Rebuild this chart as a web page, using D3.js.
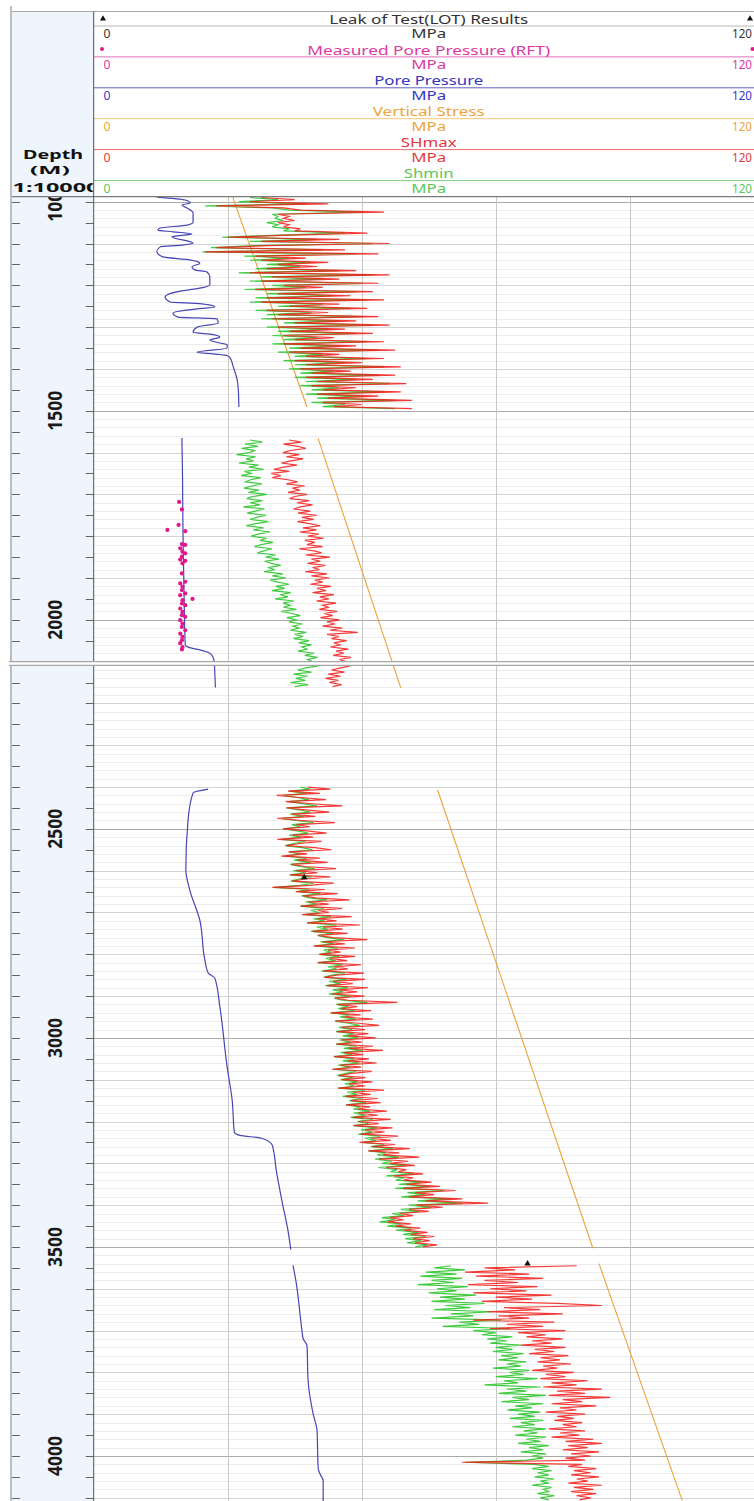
<!DOCTYPE html>
<html>
<head>
<meta charset="utf-8">
<style>
  body { margin: 0; background: #fff; }
  svg { display: block; font-family: "Noto Sans", "DejaVu Sans", sans-serif; }
</style>
</head>
<body>
<svg id="chart"></svg>
<script src="https://cdn.jsdelivr.net/npm/d3@7/dist/d3.min.js"></script>
<script>

let curveTitles = ["Leak of Test(LOT) Results", "Measured Pore Pressure (RFT)", "Pore Pressure", "Vertical Stress", "SHmax", "Shmin"];
let scaleMin = 0, scaleMax = 120, scaleUnit = "MPa";
let depthLabels = [1000, 1500, 2000, 2500, 3000, 3500, 4000];

// [depth m, MPa], null = gap between logged intervals
let porePressure = [
  [989, 11.3], [996, 16.4], [1003, 17.3], [1008, 15.8], [1015, 16.7], [1027, 17.8], [1049, 17.8], [1056, 16.7],
  [1063, 11.9], [1068, 11.5], [1072, 14.2], [1077, 17.6], [1084, 14.0], [1099, 17.8], [1104, 15.8], [1108, 11.9],
  [1120, 11.3], [1132, 12.4], [1139, 17.2], [1147, 19.0], [1156, 17.6], [1163, 18.1], [1168, 20.3], [1180, 20.8],
  [1199, 20.8], [1208, 18.5], [1214, 15.5], [1228, 12.8], [1240, 13.7], [1244, 19.0], [1252, 21.7], [1256, 18.7],
  [1266, 14.2], [1276, 15.1], [1280, 22.1], [1290, 22.3], [1300, 18.5], [1312, 17.8], [1318, 21.4], [1324, 22.6],
  [1331, 20.8], [1338, 22.6], [1342, 23.9], [1350, 23.9], [1360, 18.5], [1364, 21.4], [1368, 23.9], [1373, 24.4],
  [1395, 25.0], [1426, 25.7], [1450, 25.9], [1491, 26.0],
  null,
  [1565, 15.8], [1650, 15.9], [1800, 16.0], [1950, 16.2], [2060, 16.4], [2066, 17.0], [2072, 19.0], [2080, 20.8],
  [2090, 21.4], [2102, 21.6], [2130, 21.7], [2162, 21.8],
  null,
  [2405, 20.5], [2414, 17.8], [2478, 16.9], [2598, 16.5], [2646, 17.2], [2718, 19.0], [2813, 19.9], [2845, 20.5],
  [2857, 21.7], [2926, 22.6], [3070, 23.9], [3149, 24.8], [3226, 25.2], [3233, 26.2], [3240, 30.1], [3257, 32.0],
  [3317, 32.7], [3389, 33.7], [3461, 34.8], [3506, 35.3],
  null,
  [3544, 35.7], [3580, 36.2], [3700, 37.3], [3719, 37.5], [3736, 38.2], [3820, 38.4], [3899, 39.3], [3939, 40.0],
  [4028, 40.2], [4042, 40.5], [4059, 41.1], [4110, 41.1]
];

let verticalStress = [
  [989, 24.9], [1491, 38.2], null,
  [1566, 40.2], [2163, 55.0], null,
  [2407, 61.6], [3503, 89.4], null,
  [3540, 90.5], [4106, 105.4]
];

let rftPoints = [
  [1718, 15.3], [1736, 15.8], [1773, 15.2], [1785, 13.2], [1788, 16.4], [1819, 15.8], [1821, 16.4], [1829, 15.5],
  [1837, 15.9], [1841, 16.4], [1849, 15.8], [1856, 15.5], [1859, 16.4], [1865, 15.9], [1889, 15.8], [1909, 16.4],
  [1913, 15.5], [1921, 15.9], [1929, 15.8], [1937, 16.4], [1941, 15.5], [1950, 17.7], [1953, 15.9], [1961, 15.8],
  [1965, 16.4], [1973, 15.5], [1981, 15.9], [1989, 15.8], [1993, 16.4], [2001, 15.5], [2009, 15.9], [2017, 15.8],
  [2025, 16.4], [2033, 15.5], [2041, 15.9], [2049, 15.8], [2056, 15.5], [2065, 15.9], [2071, 15.8]
];

let lotPoints = [[2616, 37.7], [3540, 77.7]];

// stress logs: each interval starts at sectionTops[i], one sample every sectionSteps[i] m
let sectionTops = [990, 1570, 2400, 3545];
let sectionSteps = [5, 5, 5, 5];

let shmaxValues = [
  [30, 36, 28, 42, 22, 34, 37, 52, 33, 35,
   34, 36, 33, 35, 34, 37, 36, 49, 35, 24,
   44, 30, 53, 31, 22, 45, 20, 51, 29, 38,
   30, 42, 33, 40, 31, 47, 28, 53, 32, 44,
   30, 51, 34, 41, 29, 50, 33, 46, 31, 52,
   30, 44, 35, 49, 31, 42, 33, 51, 32, 47,
   36, 53, 33, 45, 35, 50, 34, 43, 36, 52,
   34, 47, 37, 54, 35, 44, 38, 52, 36, 48,
   38, 55, 37, 46, 39, 54, 38, 50, 40, 56,
   39, 47, 41, 55, 40, 51, 42, 57, 41, 48,
   43, 57],
  [35.0, 37.2, 34.0, 36.5, 38.0, 35.2, 33.9, 36.8, 34.5, 37.5,
   35.3, 33.6, 36.4, 34.0, 32.3, 35.0, 31.8, 33.5, 32.0, 34.8,
   36.5, 34.5, 37.8, 35.6, 36.9, 34.8, 38.2, 36.0, 35.1, 38.6,
   36.4, 39.2, 37.0, 35.8, 38.8, 36.6, 40.0, 37.3, 39.4, 36.5,
   38.6, 40.6, 37.5, 39.9, 36.9, 40.3, 38.4, 41.2, 37.8, 39.6,
   38.2, 41.0, 36.8, 39.5, 40.8, 38.0, 42.3, 39.0, 40.6, 38.3,
   41.5, 39.2, 40.4, 37.9, 41.8, 39.0, 42.2, 39.6, 41.0, 38.8,
   42.5, 40.0, 41.6, 39.2, 43.0, 40.5, 42.1, 39.9, 43.4, 41.0,
   42.0, 40.4, 43.6, 41.3, 42.8, 40.6, 44.0, 41.8, 43.2, 41.0,
   44.5, 42.3, 47.3, 41.8, 43.9, 42.6, 45.3, 43.0, 44.1, 42.4,
   45.6, 43.4, 44.8, 42.9, 46.1, 44.0, 45.2, 43.6, 45.9, 44.3,
   42.6, 44.9, 42.0, 44.2, 41.5, 43.8, 42.2, 44.4, 42.8],
  [38.4, 42.4, 34.8, 40.5, 32.8, 37.0, 41.6, 34.4, 39.1, 44.5,
   34.5, 38.4, 42.2, 35.5, 39.7, 32.9, 37.3, 43.2, 36.3, 38.7,
   33.9, 38.2, 41.7, 35.6, 39.3, 32.9, 40.8, 36.9, 34.5, 39.6,
   42.6, 34.9, 38.2, 33.6, 40.5, 36.5, 41.9, 35.4, 37.9, 43.4,
   36.3, 40.1, 35.2, 42.4, 37.9, 35.6, 43.0, 38.7, 32.0, 41.4,
   36.2, 43.7, 37.5, 39.7, 45.8, 38.4, 42.1, 37.1, 44.5, 40.2,
   42.1, 37.3, 46.2, 40.1, 43.5, 38.2, 47.7, 41.1, 44.6, 39.2,
   45.5, 40.2, 42.9, 49.0, 41.0, 45.0, 39.4, 46.8, 42.0, 44.2,
   40.4, 46.8, 42.3, 45.4, 40.1, 47.9, 43.0, 45.5, 41.1, 48.4,
   43.5, 41.3, 48.6, 42.9, 46.4, 41.8, 49.1, 43.8, 47.2, 42.7,
   48.5, 43.2, 45.6, 54.4, 43.7, 47.2, 44.3, 49.7, 42.4, 47.8,
   44.7, 50.0, 43.3, 47.4, 51.1, 44.4, 48.6, 43.6, 49.2, 45.5,
   50.5, 44.4, 48.0, 43.5, 50.0, 45.7, 51.8, 44.8, 48.3, 43.0,
   49.3, 45.5, 50.7, 44.2, 47.9, 42.7, 49.8, 46.3, 43.9, 48.7,
   44.5, 49.9, 45.7, 48.6, 43.8, 52.0, 46.4, 49.6, 45.1, 50.9,
   46.1, 51.4, 45.2, 49.5, 47.2, 52.5, 47.4, 50.9, 46.4, 53.2,
   47.5, 51.0, 46.5, 53.5, 48.6, 52.1, 47.8, 54.5, 49.7, 53.2,
   47.6, 54.0, 49.9, 56.6, 49.2, 54.7, 51.8, 58.3, 51.1, 56.3,
   53.0, 57.5, 52.4, 56.0, 54.6, 59.0, 53.8, 57.2, 55.5, 60.5,
   56.0, 62.0, 55.4, 64.8, 57.6, 61.0, 56.5, 66.0, 59.5, 70.6,
   57.8, 62.5, 56.5, 60.0, 54.8, 57.2, 53.0, 55.5, 52.6, 56.8,
   54.0, 58.5, 55.5, 59.8, 56.8, 61.0, 57.2, 60.2, 57.5, 61.5,
   59.0],
  [86.5, 70.0, 75.5, 66.5, 78.0, 68.5, 80.5, 70.0, 76.0, 67.0,
   79.5, 71.0, 77.5, 68.0, 82.0, 72.0, 78.5, 69.5, 83.0, 91.0,
   73.5, 80.0, 70.5, 84.0, 72.5, 78.0, 68.0, 82.5, 74.0, 80.5,
   71.0, 84.5, 76.0, 81.0, 77.5, 84.0, 78.5, 82.0, 76.5, 84.5,
   79.0, 82.5, 78.0, 85.0, 80.0, 83.5, 79.5, 85.5, 80.5, 83.0,
   78.5, 86.0, 81.0, 84.5, 80.0, 88.5, 82.0, 86.5, 80.5, 91.0,
   83.0, 88.0, 81.5, 92.5, 84.0, 87.5, 82.0, 90.0, 83.5, 86.5,
   81.0, 88.0, 83.0, 86.0, 82.5, 87.5, 84.0, 86.5, 81.5, 88.0,
   83.5, 87.0, 82.0, 89.5, 84.5, 91.0, 85.0, 88.5, 84.0, 90.5,
   85.5, 89.0, 84.5, 88.0, 66.0, 87.5, 85.0, 90.0, 86.0, 89.0,
   85.5, 90.5, 86.5, 88.5, 85.0, 91.0, 86.0, 89.5, 85.5, 90.0,
   86.5, 89.0, 87.0]
];

let shminValues = [
  [28, 33, 26, 38, 20, 32, 35, 48, 32, 33,
   32.5, 34, 31, 33, 32, 35, 34, 45, 33, 23,
   40, 28, 50, 29, 21, 41, 19.5, 47, 27, 35,
   28, 39, 31, 37, 29, 44, 26, 50, 30, 41,
   28, 48, 32, 38, 27, 47, 31, 43, 29, 49,
   28, 41, 33, 46, 29, 39, 31, 48, 30, 44,
   34, 50, 31, 42, 33, 47, 32, 40, 34, 49,
   32, 44, 35, 51, 33, 41, 36, 49, 34, 45,
   36, 52, 35, 43, 37, 51, 36, 47, 38, 53,
   37, 44, 39, 52, 38, 48, 40, 54, 39, 45,
   41, 54],
  [28.0, 30.2, 27.1, 29.4, 26.5, 28.8, 27.9, 25.6, 29.0, 27.3,
   28.6, 26.0, 29.5, 27.8, 30.4, 27.0, 28.2, 26.4, 29.9, 28.1,
   27.2, 30.1, 28.4, 26.9, 29.6, 27.7, 31.0, 28.5, 27.4, 30.2,
   28.0, 29.8, 26.8, 30.6, 28.9, 27.5, 30.9, 29.2, 28.0, 31.3,
   29.0, 27.3, 30.4, 28.6, 31.6, 29.4, 28.2, 31.0, 29.8, 32.1,
   30.0, 28.8, 31.9, 30.5, 29.3, 32.6, 30.8, 33.2, 30.6, 31.8,
   33.5, 31.2, 32.4, 30.5, 33.9, 32.0, 34.4, 31.6, 33.0, 35.0,
   32.6, 34.2, 31.9, 35.3, 33.4, 34.8, 32.5, 35.9, 33.9, 35.2,
   34.0, 36.3, 33.6, 35.5, 37.0, 34.6, 36.2, 35.0, 37.4, 35.7,
   36.8, 35.2, 38.1, 36.0, 37.5, 35.8, 38.6, 36.7, 39.0, 37.3,
   38.2, 36.6, 39.5, 37.8, 40.1, 38.3, 39.2, 37.5, 40.3, 38.0,
   36.5, 39.0, 35.8, 38.3, 36.2, 37.9, 35.2, 38.4, 36.0],
  [37.0, 38.8, 35.0, 38.2, 34.0, 36.4, 38.6, 34.9, 37.5, 40.0,
   34.6, 36.9, 38.8, 35.2, 37.6, 33.8, 36.2, 39.4, 35.5, 37.0,
   34.0, 36.5, 38.4, 35.0, 37.2, 33.6, 37.9, 35.8, 34.3, 37.3,
   39.2, 35.0, 36.9, 34.2, 38.1, 35.9, 38.9, 35.2, 36.8, 39.6,
   35.8, 38.0, 35.1, 39.0, 36.7, 35.3, 39.4, 37.0, 32.3, 38.6,
   36.5, 40.6, 37.2, 38.6, 41.8, 37.9, 40.0, 37.0, 41.2, 38.9,
   40.4, 37.8, 42.6, 39.4, 41.3, 38.3, 43.5, 40.0, 41.9, 38.9,
   43.0, 40.1, 41.7, 44.8, 40.6, 43.0, 39.6, 43.8, 41.2, 42.5,
   40.4, 44.0, 41.6, 43.3, 40.2, 44.6, 42.0, 43.5, 40.8, 45.0,
   42.6, 41.2, 45.3, 42.2, 44.2, 41.5, 45.6, 42.8, 44.7, 42.1,
   46.0, 43.1, 44.5, 49.0, 43.4, 45.5, 43.8, 46.8, 42.6, 45.8,
   44.1, 47.0, 43.2, 45.7, 47.6, 43.9, 46.3, 43.4, 46.6, 44.6,
   47.4, 44.0, 46.1, 43.4, 47.1, 44.8, 48.2, 44.2, 46.3, 43.1,
   46.7, 44.6, 47.6, 43.8, 46.0, 42.9, 47.0, 45.1, 43.6, 46.4,
   44.2, 47.3, 45.0, 46.7, 43.8, 48.6, 45.4, 47.2, 44.6, 48.0,
   45.8, 48.8, 45.2, 47.8, 46.5, 49.5, 46.6, 48.7, 46.0, 50.0,
   47.2, 49.2, 46.6, 50.8, 47.9, 49.9, 47.4, 51.4, 48.6, 50.6,
   48.2, 52.0, 49.6, 53.6, 49.2, 52.4, 50.8, 54.7, 50.4, 53.4,
   51.6, 55.9, 51.0, 54.4, 53.2, 57.4, 52.4, 55.6, 54.1, 58.8,
   54.6, 60.2, 54.0, 62.8, 56.2, 59.3, 55.1, 63.8, 58.0, 66.0,
   56.4, 60.6, 55.0, 58.3, 53.4, 55.6, 51.6, 54.0, 51.2, 55.2,
   52.6, 56.9, 54.1, 58.2, 55.4, 59.4, 55.8, 58.6, 56.1, 59.9,
   57.6],
  [64.0, 61.0, 66.5, 59.5, 65.0, 58.5, 66.0, 60.5, 64.5, 58.0,
   67.0, 61.5, 65.0, 60.0, 68.5, 62.0, 66.5, 60.5, 70.0, 63.0,
   67.5, 61.0, 71.5, 64.0, 68.0, 60.5, 73.0, 65.5, 69.0, 62.5,
   74.5, 68.0, 72.0, 69.5, 75.0, 70.5, 74.0, 71.0, 76.5, 72.0,
   75.0, 71.5, 77.0, 73.0, 76.0, 72.5, 77.5, 74.0, 76.5, 71.5,
   78.0, 74.5, 77.0, 72.0, 79.5, 73.5, 76.0, 70.0, 80.0, 74.0,
   77.5, 72.5, 81.0, 75.0, 78.0, 73.0, 80.5, 75.5, 78.5, 74.0,
   80.0, 76.0, 79.0, 74.5, 80.5, 76.5, 79.0, 75.0, 81.0, 77.0,
   79.5, 75.5, 81.0, 77.5, 80.0, 76.0, 81.5, 78.0, 80.5, 76.5,
   81.0, 78.5, 80.5, 77.5, 66.5, 79.0, 81.5, 78.5, 82.0, 79.5,
   81.5, 79.0, 82.5, 80.0, 81.5, 78.5, 82.0, 80.5, 81.5, 79.5,
   82.5, 80.0, 81.5]
];

// ---- styling ----
let curveColors = ["#333333", "#db3aa2", "#3535c2", "#eea43a", "#e23a3a", "#5cc65c"];
let headerLineColors = ["#b8b8b8", "#e070b8", "#6262c8", "#f2c67a", "#ea6a6a", "#8ad48a"];
let titleWidths = [199, 243, 109, 112, 56, 50];
let lineColors = { pore: "#4646b4", vert: "#eba23c", shmax: "#f0201c", shmin: "#3fca3f", rft: "#e3178c" };

let width = 754, height = 1501;
let trackLeft = 93.7, trackRight = 763.7;
let depthLeft = 12;
let headerTop = 11.5, headerBottom = 196.7;

let svg = d3.select("#chart").attr("width", width).attr("height", height);

let x = d3.scaleLinear().domain([scaleMin, scaleMax]).range([trackLeft, trackRight]);
let y = d3.scaleLinear().domain([1000, 4000]).range([201.7, 1456]);

let defs = svg.append("defs");
defs.append("clipPath").attr("id", "plotClip")
    .append("rect").attr("x", trackLeft).attr("y", headerBottom).attr("width", width - trackLeft).attr("height", height - headerBottom);
defs.append("clipPath").attr("id", "depthClip")
    .append("rect").attr("x", depthLeft).attr("y", headerBottom).attr("width", trackLeft - depthLeft).attr("height", height - headerBottom);
defs.append("clipPath").attr("id", "depthHeadClip")
    .append("rect").attr("x", depthLeft).attr("y", headerTop).attr("width", trackLeft - depthLeft - 1).attr("height", headerBottom - headerTop);

// depth column background
svg.append("rect")
    .attr("x", depthLeft).attr("y", headerTop)
    .attr("width", trackLeft - depthLeft).attr("height", height - headerTop)
    .attr("fill", "#eef5fc");

// ---- grid ----
let grid = svg.append("g").attr("clip-path", "url(#plotClip)");

let gridDepths = d3.range(980, 4120, 20);
grid.selectAll("line.h")
    .data(gridDepths)
    .enter()
    .append("line")
    .attr("class", "h")
    .attr("x1", trackLeft).attr("x2", width)
    .attr("y1", d => Math.round(y(d)) + 0.5)
    .attr("y2", d => Math.round(y(d)) + 0.5)
    .attr("stroke", d => d % 500 === 0 ? "#a9a9a9" : d % 100 === 0 ? "#d4d4d4" : "#ececec")
    .attr("stroke-width", 1);

grid.selectAll("line.v")
    .data(d3.range(24, 120, 24))
    .enter()
    .append("line")
    .attr("class", "v")
    .attr("x1", d => Math.round(x(d)) + 0.5).attr("x2", d => Math.round(x(d)) + 0.5)
    .attr("y1", headerBottom).attr("y2", height)
    .attr("stroke", "#c9c9c9");

// ---- curves ----
let plot = svg.append("g").attr("clip-path", "url(#plotClip)");

let depthLine = d3.line()
    .defined(d => d !== null)
    .x(d => x(d[1]))
    .y(d => y(d[0]));

plot.append("path")
    .datum(verticalStress)
    .attr("d", depthLine)
    .attr("fill", "none")
    .attr("stroke", lineColors.vert)
    .attr("stroke-width", 1.1);

plot.append("path")
    .datum(porePressure)
    .attr("d", depthLine.curve(d3.curveMonotoneY))
    .attr("fill", "none")
    .attr("stroke", lineColors.pore)
    .attr("stroke-width", 1.2);
depthLine.curve(d3.curveLinear);

function sectionPoints(values, i) {
    return values.map((v, k) => [sectionTops[i] + k * sectionSteps[i], v]);
}

shminValues.forEach(function(vals, i){
    plot.append("path")
        .datum(sectionPoints(vals, i))
        .attr("d", depthLine)
        .attr("fill", "none")
        .attr("stroke", lineColors.shmin)
        .attr("stroke-width", 1.2);
});

shmaxValues.forEach(function(vals, i){
    plot.append("path")
        .datum(sectionPoints(vals, i))
        .attr("d", depthLine)
        .attr("fill", "none")
        .attr("stroke", lineColors.shmax)
        .attr("stroke-opacity", 0.88)
        .attr("stroke-width", 1.2);
});

plot.selectAll("circle.rft")
    .data(rftPoints)
    .enter()
    .append("circle")
    .attr("class", "rft")
    .attr("cx", d => x(d[1]))
    .attr("cy", d => y(d[0]))
    .attr("r", 2.1)
    .attr("fill", lineColors.rft);

plot.selectAll("path.lot")
    .data(lotPoints)
    .enter()
    .append("path")
    .attr("class", "lot")
    .attr("transform", d => "translate(" + x(d[1]) + "," + y(d[0]) + ")")
    .attr("d", d3.symbol().type(d3.symbolTriangle).size(18))
    .attr("fill", "#111");

// ---- depth column ----
let depthG = svg.append("g").attr("clip-path", "url(#depthClip)");

depthG.selectAll("line.tl")
    .data(d3.range(1000, 4150, 50))
    .enter()
    .append("line")
    .attr("x1", depthLeft).attr("x2", depthLeft + 8)
    .attr("y1", d => Math.round(y(d)) + 0.5).attr("y2", d => Math.round(y(d)) + 0.5)
    .attr("stroke", "#666");

depthG.selectAll("line.tr")
    .data(d3.range(1000, 4150, 50))
    .enter()
    .append("line")
    .attr("x1", trackLeft - 8).attr("x2", trackLeft)
    .attr("y1", d => Math.round(y(d)) + 0.5).attr("y2", d => Math.round(y(d)) + 0.5)
    .attr("stroke", "#666");

depthG.selectAll("text")
    .data(depthLabels)
    .enter()
    .append("text")
    .attr("transform", d => "translate(54.5," + y(d) + ") rotate(-90)")
    .attr("text-anchor", "middle")
    .attr("dy", "0.36em")
    .attr("font-size", 20)
    .attr("font-weight", "bold")
    .attr("textLength", 40)
    .attr("lengthAdjust", "spacingAndGlyphs")
    .attr("fill", "#1a1a1a")
    .text(d => d);

// depth header
let dh = svg.append("g").attr("clip-path", "url(#depthHeadClip)").attr("font-weight", "bold").attr("fill", "#111");
dh.append("text").attr("x", 53).attr("y", 159).attr("text-anchor", "middle").attr("font-size", 12)
    .attr("textLength", 60).attr("lengthAdjust", "spacingAndGlyphs").text("Depth");
dh.append("text").attr("x", 50).attr("y", 173.5).attr("text-anchor", "middle").attr("font-size", 11)
    .attr("textLength", 40).attr("lengthAdjust", "spacingAndGlyphs").text("(M)");
dh.append("text").attr("x", 12.5).attr("y", 192).attr("font-size", 12.5)
    .attr("textLength", 87).attr("lengthAdjust", "spacingAndGlyphs").text("1:10000");

// ---- track header ----
let header = svg.append("g");
let blockGap = 30.9;
let titleMid = (trackLeft + trackRight) / 2;

curveTitles.forEach(function(title, i){
    let ly = 26 + i * blockGap;
    let col = curveColors[i];

    header.append("line")
        .attr("x1", trackLeft).attr("x2", width)
        .attr("y1", ly).attr("y2", ly)
        .attr("stroke", headerLineColors[i]);

    header.append("text")
        .attr("x", titleMid).attr("y", ly - 6.6).attr("dy", "0.35em")
        .attr("text-anchor", "middle").attr("font-size", 12.2)
        .attr("textLength", titleWidths[i]).attr("lengthAdjust", "spacingAndGlyphs")
        .attr("fill", col).text(title);

    let sy = ly + 7.8;
    header.append("text").attr("x", 103.5).attr("y", sy).attr("dy", "0.35em")
        .attr("font-size", 12.2).attr("textLength", 7).attr("lengthAdjust", "spacingAndGlyphs")
        .attr("fill", col).text(scaleMin);
    header.append("text").attr("x", titleMid).attr("y", sy).attr("dy", "0.35em")
        .attr("text-anchor", "middle").attr("font-size", 12.2)
        .attr("textLength", 35).attr("lengthAdjust", "spacingAndGlyphs")
        .attr("fill", col).text(scaleUnit);
    header.append("text").attr("x", 752).attr("y", sy).attr("dy", "0.35em")
        .attr("text-anchor", "end").attr("font-size", 12.2)
        .attr("textLength", 20).attr("lengthAdjust", "spacingAndGlyphs")
        .attr("fill", col).text(scaleMax);
});

// legend markers for LOT and RFT
let triY = 26 - 6.8;
header.append("path").attr("transform", "translate(103," + (triY - 0.5) + ")")
    .attr("d", d3.symbol().type(d3.symbolTriangle).size(16)).attr("fill", "#111");
header.append("path").attr("transform", "translate(750," + (triY - 0.5) + ")")
    .attr("d", d3.symbol().type(d3.symbolTriangle).size(16)).attr("fill", "#111");
let dotY = 26 + blockGap - 8;
header.append("circle").attr("cx", 102).attr("cy", dotY).attr("r", 2).attr("fill", lineColors.rft);
header.append("circle").attr("cx", 752.5).attr("cy", dotY).attr("r", 2).attr("fill", lineColors.rft);

// ---- frame ----
let frame = svg.append("g");
frame.append("line").attr("x1", depthLeft).attr("x2", width).attr("y1", headerTop).attr("y2", headerTop)
    .attr("stroke", "#a8a8a8");
frame.append("line").attr("x1", depthLeft).attr("x2", width).attr("y1", headerBottom).attr("y2", headerBottom)
    .attr("stroke", "#7a7a7a").attr("stroke-width", 1.2);
frame.append("line").attr("x1", trackLeft).attr("x2", trackLeft).attr("y1", headerTop).attr("y2", height)
    .attr("stroke", "#505050");
frame.append("line").attr("x1", 11).attr("x2", 11).attr("y1", 6).attr("y2", height)
    .attr("stroke", "#bdbdbd").attr("stroke-width", 2);

// break between the two log panels
let breakY = y(2100);
frame.append("rect").attr("x", 9).attr("y", breakY).attr("width", width).attr("height", 3.6).attr("fill", "#fff");
frame.append("line").attr("x1", 9).attr("x2", width).attr("y1", breakY).attr("y2", breakY)
    .attr("stroke", "#a6a6a6").attr("stroke-width", 1.3);
frame.append("line").attr("x1", 9).attr("x2", width).attr("y1", breakY + 3.8).attr("y2", breakY + 3.8)
    .attr("stroke", "#a6a6a6").attr("stroke-width", 1.3);

</script>
</body>
</html>
